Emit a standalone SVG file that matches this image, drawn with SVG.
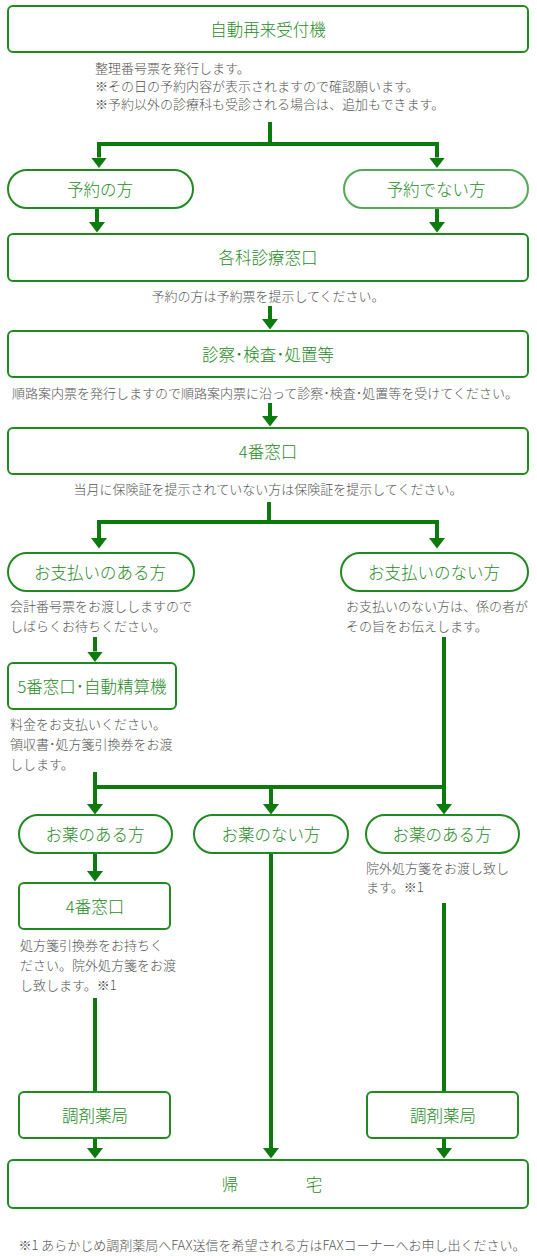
<svg xmlns="http://www.w3.org/2000/svg" width="537" height="1256" viewBox="0 0 537 1256">
<style>
.box{fill:#fff;stroke:#1f8a1f;stroke-width:2}
.pill2{fill:#fff;stroke:#55a855;stroke-width:2}
.lbl{font-family:"Noto Sans CJK JP",sans-serif;font-weight:300;font-size:16.5px;fill:#1f8a1f;text-anchor:middle;dominant-baseline:central}
.desc{font-family:"Noto Sans CJK JP",sans-serif;font-weight:300;font-size:13px;fill:#555;dominant-baseline:central}
.ln{fill:none;stroke:#0d7a0d;stroke-width:4}
.ar{fill:none;stroke:#0d7a0d;stroke-width:4;marker-end:url(#ah)}
</style>
<defs>
<marker id="ah" markerUnits="userSpaceOnUse" markerWidth="12" markerHeight="18" viewBox="0 -9 12 18" refX="0" refY="0" orient="auto">
<path d="M0,-8 L10.5,0 L0,8 z" fill="#0d7a0d"/>
</marker>
</defs>
<rect width="537" height="1256" fill="#fff"/>

<g id="connectors">
<path class="ln" d="M270,122 V144"/>
<path class="ln" d="M97,144 H437" stroke-linejoin="round"/>
<path class="ar" d="M99,142 V157.5"/>
<path class="ar" d="M437,142 V157.5"/>
<path class="ar" d="M97,208 V222"/>
<path class="ar" d="M437,208 V222"/>
<path class="ar" d="M270,306 V319"/>
<path class="ar" d="M270,403 V416"/>
<path class="ln" d="M269,502 V522"/>
<path class="ln" d="M97,522 H437"/>
<path class="ar" d="M99,520 V538"/>
<path class="ar" d="M437,520 V538"/>
<path class="ar" d="M95,637 V651.5"/>
<path class="ln" d="M95,772 V787"/>
<path class="ln" d="M444,637 V787"/>
<path class="ln" d="M93,787 H446"/>
<path class="ar" d="M95,785 V804"/>
<path class="ar" d="M271,785 V804"/>
<path class="ar" d="M444,785 V804"/>
<path class="ar" d="M95,853 V871"/>
<path class="ln" d="M95,998 V1091"/>
<path class="ln" d="M444,903 V1091"/>
<path class="ar" d="M271,853 V1148"/>
<path class="ar" d="M95,1138 V1148"/>
<path class="ar" d="M444,1138 V1148"/>
</g>

<g id="n1"><rect class="box" x="8" y="6" width="520" height="46" rx="5"/><text class="lbl" x="268" y="29">自動再来受付機</text></g>
<g id="n1d">
<text class="desc" x="95" y="67">整理番号票を発行します。</text>
<text class="desc" x="95" y="85">※その日の予約内容が表示されますので確認願います。</text>
<text class="desc" x="95" y="103">※予約以外の診療科も受診される場合は、追加もできます。</text>
</g>
<g id="n2"><rect class="box" x="8" y="170" width="185" height="38" rx="19"/><text class="lbl" x="100" y="189">予約の方</text></g>
<g id="n3"><rect class="pill2" x="344" y="170" width="184" height="38" rx="19"/><text class="lbl" x="436" y="189">予約でない方</text></g>
<g id="n4"><rect class="box" x="8" y="234" width="520" height="47" rx="5"/><text class="lbl" x="268" y="257">各科診療窓口</text>
<text class="desc" x="268" y="295" text-anchor="middle">予約の方は予約票を提示してください。</text></g>
<g id="n5"><rect class="box" x="8" y="331" width="520" height="46" rx="5"/><text class="lbl" x="268" y="354">診察･検査･処置等</text>
<text class="desc" x="12" y="392">順路案内票を発行しますので順路案内票に沿って診察･検査･処置等を受けてください。</text></g>
<g id="n6"><rect class="box" x="8" y="428" width="520" height="46" rx="5"/><text class="lbl" x="268" y="451">4番窓口</text>
<text class="desc" x="268" y="488" text-anchor="middle">当月に保険証を提示されていない方は保険証を提示してください。</text></g>
<g id="n7"><rect class="box" x="8" y="553" width="186" height="38" rx="19"/><text class="lbl" x="100" y="572">お支払いのある方</text>
<text class="desc" x="10" y="605">会計番号票をお渡ししますので</text>
<text class="desc" x="10" y="625">しばらくお待ちください。</text></g>
<g id="n8"><rect class="box" x="341" y="553" width="187" height="38" rx="19"/><text class="lbl" x="434" y="572">お支払いのない方</text>
<text class="desc" x="346" y="605">お支払いのない方は、係の者が</text>
<text class="desc" x="346" y="625">その旨をお伝えします。</text></g>
<g id="n9"><rect class="box" x="8" y="663" width="168" height="46" rx="5"/><text class="lbl" x="92" y="686">5番窓口･自動精算機</text>
<text class="desc" x="10" y="723">料金をお支払いください。</text>
<text class="desc" x="10" y="743">領収書･処方箋引換券をお渡</text>
<text class="desc" x="10" y="763">しします。</text></g>
<g id="n10"><rect class="box" x="19" y="815" width="153" height="38" rx="19"/><text class="lbl" x="95" y="834">お薬のある方</text></g>
<g id="n11"><rect class="box" x="194" y="815" width="154" height="38" rx="19"/><text class="lbl" x="271" y="834">お薬のない方</text></g>
<g id="n12"><rect class="box" x="366" y="815" width="153" height="38" rx="19"/><text class="lbl" x="442" y="834">お薬のある方</text>
<text class="desc" x="366" y="867">院外処方箋をお渡し致し</text>
<text class="desc" x="366" y="886">ます。※1</text></g>
<g id="n13"><rect class="box" x="19" y="883" width="151" height="46" rx="5"/><text class="lbl" x="95" y="906">4番窓口</text>
<text class="desc" x="20" y="944">処方箋引換券をお持ちく</text>
<text class="desc" x="20" y="964">ださい。院外処方箋をお渡</text>
<text class="desc" x="20" y="984">し致します。※1</text></g>
<g id="n14"><rect class="box" x="19" y="1092" width="151" height="46" rx="5"/><text class="lbl" x="95" y="1115">調剤薬局</text></g>
<g id="n15"><rect class="box" x="367" y="1092" width="151" height="46" rx="5"/><text class="lbl" x="443" y="1115">調剤薬局</text></g>
<g id="n16"><rect class="box" x="8" y="1160" width="520" height="48" rx="5"/><text class="lbl" x="270" y="1184"><tspan x="230">帰</tspan><tspan x="314">宅</tspan></text></g>
<text class="desc" x="272" y="1244" text-anchor="middle">※1 あらかじめ調剤薬局へFAX送信を希望される方はFAXコーナーへお申し出ください。</text>
</svg>
